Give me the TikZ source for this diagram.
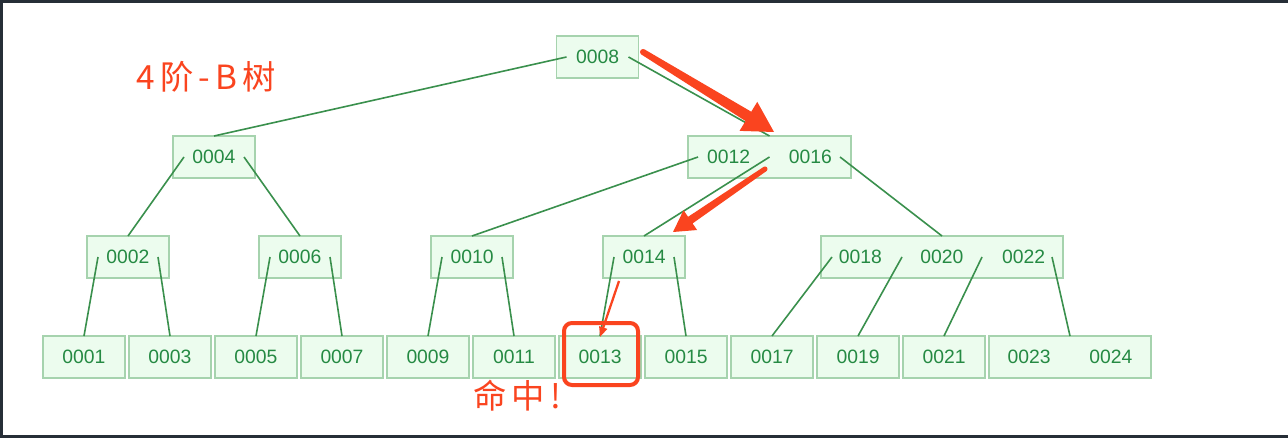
\documentclass[tikz,border=0pt]{standalone}
\usepackage{fontspec}
\setmainfont{Liberation Sans}
\newfontfamily\cjkfont[LetterSpace=16]{Noto Sans CJK SC}
\usetikzlibrary{calc, arrows.meta}

\definecolor{keyfill}{HTML}{ECFCEE}
\definecolor{keydraw}{HTML}{A6D3AE}
\definecolor{keytext}{HTML}{258A43}
\definecolor{edgegreen}{HTML}{3A904D}
\definecolor{hitred}{HTML}{FA441F}
\definecolor{framegray}{HTML}{262E37}

\newcommand{\kgap}{\hspace{29pt}}

\begin{document}
\begin{tikzpicture}
  [x=0.75pt, y=-0.75pt,
   key/.style = {
     rectangle, draw=keydraw, fill=keyfill, line width=1.2pt, text=keytext,
     minimum width=61.5pt, minimum height=31.5pt, inner sep=0pt, outer sep=0pt,
     font=\fontsize{14.5pt}{16pt}\selectfont},
   edge/.style = {draw=edgegreen, line width=1.2pt},
   note/.style = {anchor=west, inner sep=0pt, text=hitred,
     font=\cjkfont\fontsize{25pt}{28pt}\selectfont},
   pointer/.style = {fill=hitred, draw=none},
   hitbox/.style = {draw=hitred, line width=3pt, rounded corners=6pt}
  ]
  \useasboundingbox (0,0) rectangle (1288,438);
  \fill[framegray] (0,0) rectangle (1288,438);
  \fill[white] (3,3) rectangle (1288,435);

  \node[note] (title) at (136,76.5) {4阶-B树};

  % upper levels
  \node[key] (n0008) at (597.5,57) {0008};
  \node[key] (n0004) at (214,157) {0004};
  \node[key, minimum width=122.25pt] (n0012) at (769.5,157) {0012\kgap0016};
  \node[key] (n0002) at (128,257) {0002};
  \node[key] (n0006) at (300,257) {0006};
  \node[key] (n0010) at (472,257) {0010};
  \node[key] (n0014) at (644,257) {0014};
  \node[key, minimum width=181.5pt] (n0018) at (942,257) {0018\kgap0020\kgap0022};

  % leaves
  \foreach \k/\x in {0001/84, 0003/170, 0005/256, 0007/342, 0009/428, 0011/514,
                     0013/600, 0015/686, 0017/772, 0019/858, 0021/944}
    \node[key] (n\k) at (\x,357) {\k};
  \node[key, minimum width=121.5pt] (n0023) at (1070,357) {0023\kgap0024};

  \draw[edge] ($(n0008.west)+(10,0)$) -- (n0004.north);
  \draw[edge] ($(n0008.east)-(10,0)$) -- (n0012.north);
  \draw[edge] ($(n0004.west)+(11,0)$) -- (n0002.north);
  \draw[edge] ($(n0004.east)-(11,0)$) -- (n0006.north);
  \draw[edge] ($(n0012.west)+(10,0)$) -- (n0010.north);
  \draw[edge] (n0012.center) -- (n0014.north);
  \draw[edge] ($(n0012.east)-(11,0)$) -- (n0018.north);
  \foreach \p/\l/\r in {0002/0001/0003, 0006/0005/0007, 0010/0009/0011, 0014/0013/0015} {
    \draw[edge] ($(n\p.west)+(11,0)$) -- (n\l.north);
    \draw[edge] ($(n\p.east)-(11,0)$) -- (n\r.north);
  }
  \draw[edge] ($(n0018.west)+(11,0)$) -- (n0017.north);
  \draw[edge] ($(n0018.center)-(40,0)$) -- (n0019.north);
  \draw[edge] ($(n0018.center)+(40,0)$) -- (n0021.north);
  \draw[edge] ($(n0018.east)-(11,0)$) -- (n0023.north);

  % search path
  \coordinate (a1s) at ($(n0008.east)+(4.5,-5)$);
  \coordinate (a1t) at ($(n0012.north)+(4.5,-4)$);
  \coordinate (a1b) at ($(a1t)!22.5pt!(a1s)$);
  \fill[pointer] (a1s) circle (2.25pt);
  \fill[pointer] ($(a1s)!2.25pt!90:(a1t)$) -- ($(a1b)!4.1pt!90:(a1t)$)
    -- ($(a1b)!12.75pt!90:(a1t)$) -- (a1t) -- ($(a1b)!12.75pt!-90:(a1t)$)
    -- ($(a1b)!4.1pt!-90:(a1t)$) -- ($(a1s)!2.25pt!-90:(a1t)$) -- cycle;

  \coordinate (a2s) at ($(n0012.center)+(-4.5,12)$);
  \coordinate (a2t) at ($(n0014.north)+(29,-4)$);
  \coordinate (a2b) at ($(a2t)!15.75pt!(a2s)$);
  \fill[pointer] (a2s) circle (1.9pt);
  \fill[pointer] ($(a2s)!1.9pt!90:(a2t)$) -- ($(a2b)!3pt!90:(a2t)$)
    -- ($(a2b)!9pt!90:(a2t)$) -- (a2t) -- ($(a2b)!9pt!-90:(a2t)$)
    -- ($(a2b)!3pt!-90:(a2t)$) -- ($(a2s)!1.9pt!-90:(a2t)$) -- cycle;

  \coordinate (a3s) at ($(n0014.south)+(-25,3)$);
  \coordinate (a3t) at ($(n0013.north)+(0,1)$);
  \draw[hitred, line width=1.7pt, -{Triangle[length=7.5pt,width=6pt]}] (a3s) -- (a3t);

  \draw[hitbox] ($(n0013.north west)+(5,-13)$) rectangle ($(n0013.south east)+(-3,7)$);
  \node[note] (hit) at (473,395.5) {命中!};
\end{tikzpicture}
\end{document}
